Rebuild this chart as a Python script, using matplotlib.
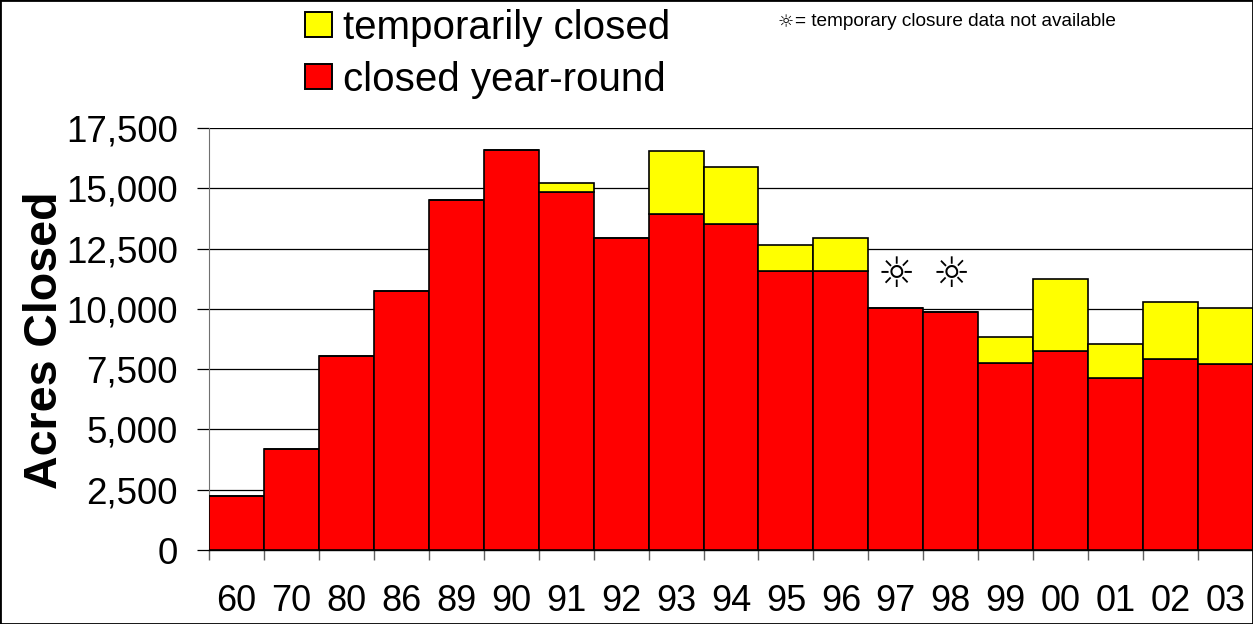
import matplotlib
matplotlib.use("Agg")
import matplotlib.pyplot as plt
from matplotlib.patches import Rectangle

# Acres closed by year
years = ['60', '70', '80', '86', '89', '90', '91', '92', '93', '94', '95', '96',
         '97', '98', '99', '00', '01', '02', '03']
year_round = [2250, 4200, 8050, 10750, 14500, 16600, 14850, 12950, 13950, 13500,
              11550, 11550, 10050, 9850, 7750, 8250, 7150, 7900, 7700]
temporary = [0, 0, 0, 0, 0, 0, 350, 0, 2600, 2400, 1100, 1400, 0, 0, 1100, 3000,
             1400, 2400, 2320]
sun_years = ['97', '98']
sun_height = 11400
ticks = [0, 2500, 5000, 7500, 10000, 12500, 15000, 17500]

plt.rcParams['font.family'] = ['Liberation Sans', 'DejaVu Sans']

fig = plt.figure(figsize=(12.53, 6.24), dpi=100)
ax = fig.add_axes([209 / 1253, 1 - 550 / 624, 1044 / 1253, (550 - 128) / 624])

x = list(range(len(years)))
ax.bar(x, year_round, width=1, color='#ff0000', edgecolor='black', linewidth=1.2, zorder=3)
ax.bar(x, temporary, width=1, bottom=year_round, color='#ffff00', edgecolor='black',
       linewidth=1.2, zorder=3)

ax.set_xlim(-0.5, len(years) - 0.5)
ax.set_ylim(0, 17500)
ax.set_yticks(ticks)
ax.set_yticklabels([f'{t:,}' for t in ticks], fontsize=26.5)
ax.set_xticks([i - 0.5 for i in range(len(years) + 1)])
ax.set_xticklabels([])
ax.set_xticks(x, minor=True)
ax.set_xticklabels(years, minor=True, fontsize=26)
ax.tick_params(axis='x', which='minor', length=0, pad=24.5)
ax.tick_params(axis='x', which='major', direction='out', length=7.5, width=1, color='#606060')
ax.tick_params(axis='y', direction='out', length=8.6, width=0.9, pad=13.7)
ax.yaxis.grid(True, color='black', linewidth=0.9, zorder=0)
ax.set_axisbelow(True)
for side in ['top', 'right']:
    ax.spines[side].set_visible(False)
ax.spines['left'].set_color('#707070')
ax.spines['bottom'].set_linewidth(1)
ax.set_ylabel('Acres Closed', fontsize=33.5, fontweight='bold')
ax.yaxis.set_label_coords(-0.136, 0.498)

# sun symbols mark years without temporary closure data
for yr in sun_years:
    ax.text(years.index(yr), sun_height, '☼', fontsize=30, ha='center', va='center',
            family='DejaVu Sans', zorder=4)

# legend is placed by hand above the axes
fig.add_artist(Rectangle((305 / 1253, 1 - 37 / 624), 27 / 1253, 25 / 624, facecolor='#ffff00',
                         edgecolor='black', linewidth=1.4, transform=fig.transFigure))
fig.add_artist(Rectangle((305 / 1253, 1 - 89 / 624), 27 / 1253, 25 / 624, facecolor='#ff0000',
                         edgecolor='black', linewidth=1.4, transform=fig.transFigure))
fig.text(343 / 1253, 1 - 28 / 624, 'temporarily closed', fontsize=29, va='center')
fig.text(343 / 1253, 1 - 80 / 624, 'closed year-round', fontsize=29, va='center')
fig.text(778 / 1253, 1 - 22 / 624, '☼', fontsize=13, va='center', family='DejaVu Sans')
fig.text(795 / 1253, 1 - 22 / 624, '= temporary closure data not available', fontsize=13.7, va='center')

# thin outer frame
fig.add_artist(Rectangle((0, 0), 1, 1, fill=False, edgecolor='black', linewidth=2,
                         transform=fig.transFigure))

fig.savefig('out.png', dpi=100)
